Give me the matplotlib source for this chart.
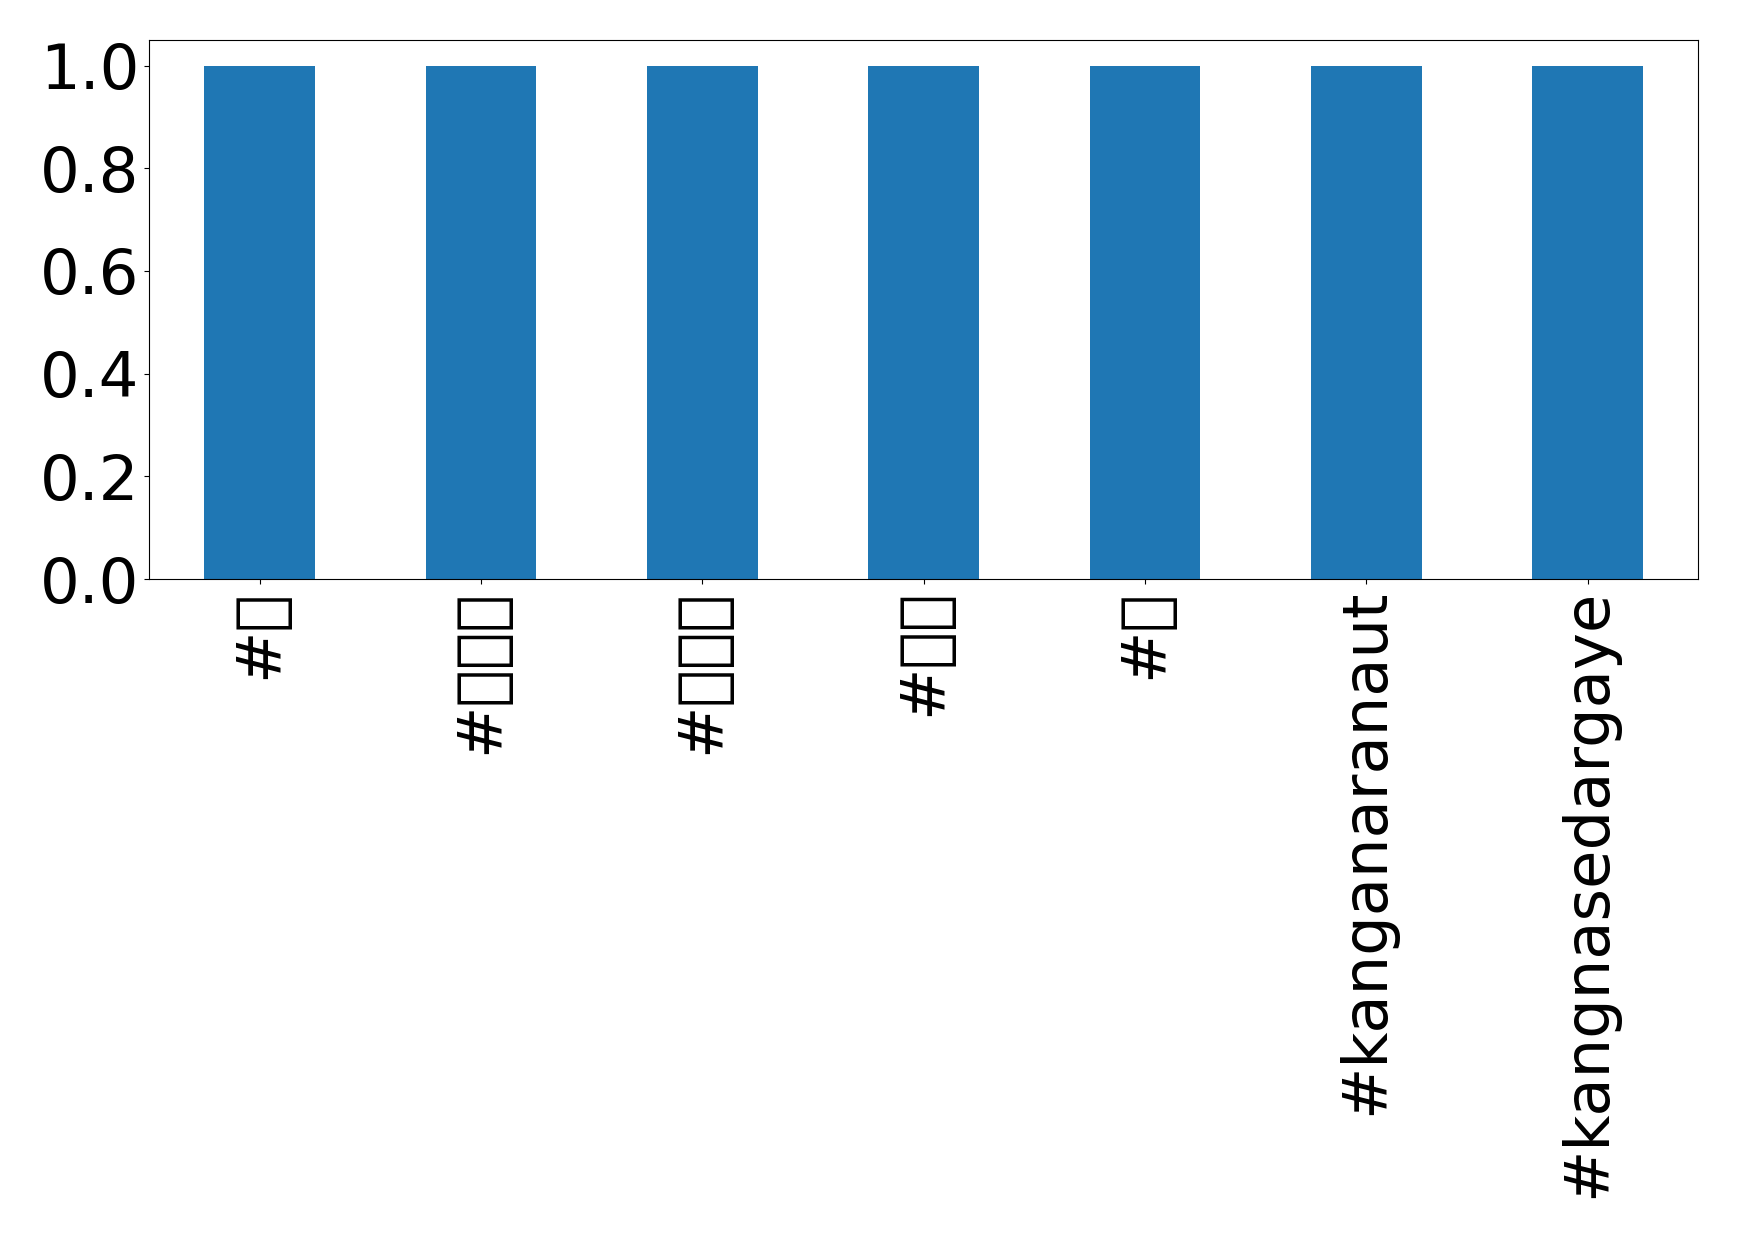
import matplotlib
matplotlib.use('Agg')
import matplotlib.pyplot as plt
import numpy as np

# hashtag counts (emoji tags have no glyph in any installed font, as in the original)
hashtags = ['#🙏', '#🔥🔥🔥', '#🇮🇳🙏', '#🇮🇳', '#🔥', '#kanganaranaut', '#kangnasedargaye']
counts = [1, 1, 1, 1, 1, 1, 1]

fig = plt.figure(figsize=(17.39, 12.38), dpi=100)
ax = fig.add_axes([0.0857, 0.5323, 0.891, 0.4354])
x_pos = np.arange(len(hashtags))
ax.bar(x_pos, counts, width=0.5, color='#1f77b4')
ax.set_xlim(-0.5, len(hashtags) - 0.5)
ax.set_xticks(x_pos)
ax.set_xticklabels(hashtags, rotation=90, fontsize=45)
ax.set_yticks(np.arange(0, 1.01, 0.2))
ax.tick_params(axis='y', labelsize=45)
fig.savefig('out.png', dpi=100)
